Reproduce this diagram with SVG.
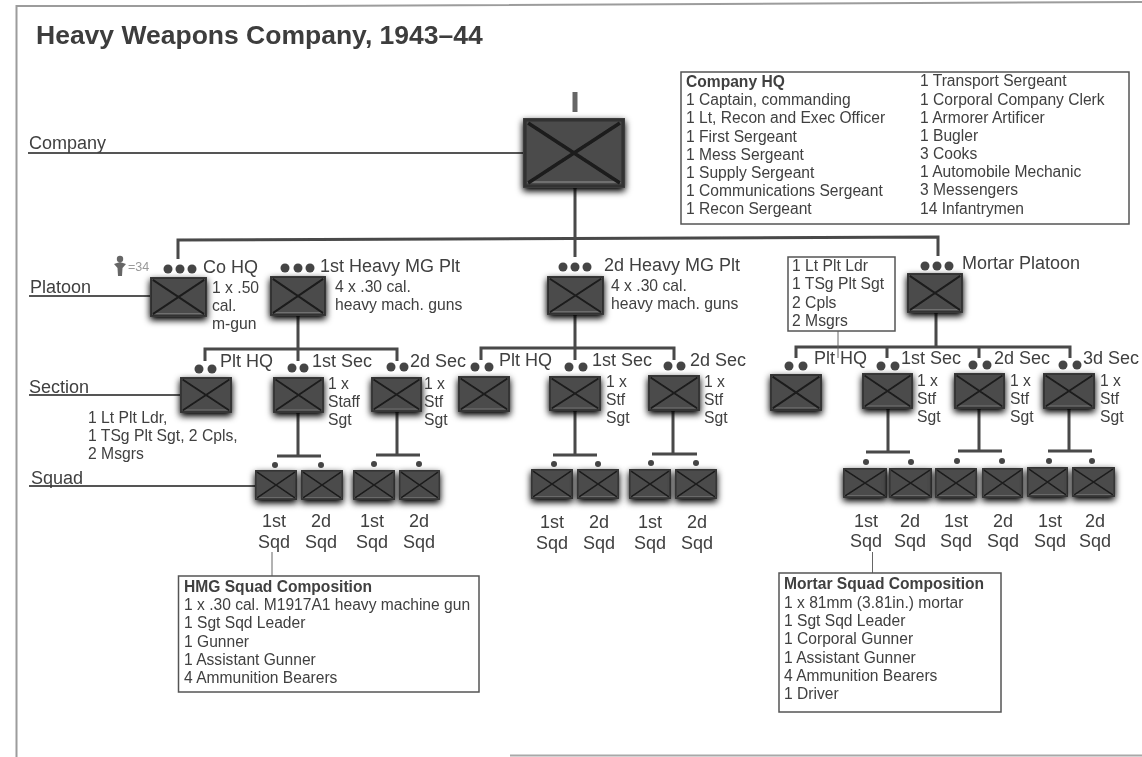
<svg xmlns="http://www.w3.org/2000/svg" width="1142" height="757" viewBox="0 0 1142 757">
<style>
text{font-family:"Liberation Sans",Arial,sans-serif;fill:#404040}
.t{font-size:26.500px;font-weight:bold;fill:#3c3c3c}
.l{font-size:18px}
.m{font-size:18px}
.s{font-size:15.700px}
.b{font-size:15.600px}
.h{font-weight:bold}
.q{font-size:18px;text-anchor:middle}
.c{fill:none;stroke:#484848;stroke-width:3}
.f{fill:none;stroke:#555;stroke-width:2}
.n{fill:none;stroke:#666;stroke-width:1}
.bx{fill:#fff;stroke:#555;stroke-width:1.500}
.d{fill:#444}
.sh{filter:url(#shadow)}
</style>
<defs>
<filter id="soft" filterUnits="userSpaceOnUse" x="0" y="0" width="1142" height="757">
<feGaussianBlur stdDeviation="0.450"/>
</filter>
<filter id="shadow" x="-30%" y="-30%" width="160%" height="170%">
<feGaussianBlur in="SourceAlpha" stdDeviation="3.500"/>
<feOffset dy="3"/>
<feComponentTransfer><feFuncA type="linear" slope="1.100"/></feComponentTransfer>
<feMerge><feMergeNode/><feMergeNode in="SourceGraphic"/></feMerge>
</filter>
<symbol id="u" viewBox="0 0 100 70" preserveAspectRatio="none">
<rect x="0" y="0" width="100" height="70" fill="#4b4b4b"/>
<rect x="2" y="2" width="96" height="66" fill="none" stroke="#303030" stroke-width="3"/>
<rect x="4" y="63" width="92" height="2" fill="#707070"/>
<path d="M5 5L95 65M95 5L5 65" fill="none" stroke="#1c1c1c" stroke-width="3.500"/>
</symbol>
</defs>
<rect width="1142" height="757" fill="#fff"/>
<g id="diagram" filter="url(#soft)">
<g id="page-border" fill="none">
<path d="M16.500 757V6H300L1142 2" stroke="#9c9c9c" stroke-width="2"/>
<path d="M510 755.500H1142" stroke="#a8a8a8" stroke-width="2"/>
</g>
<text class="t" x="36" y="44">Heavy Weapons Company, 1943–44</text>
<g id="connectors">
<path class="f" d="M28 153H523M29 296H150M29 395H180M29 486H255"/>
<path d="M575 92V112" stroke="#666" stroke-width="5" fill="none"/>
<path class="c" d="M178 259V240L938 237V256M575 188V257"/>
<path class="c" d="M298 316V349M205 361V349H397V361M298 349V361"/>
<path class="c" d="M298 413V456M277 456H321M397 412V455M376 455H420"/>
<path class="c" d="M575 315V348M481 360V348H674V360M575 348V360"/>
<path class="c" d="M575 411V455M553 455H597M673 411V454M652 454H697"/>
<path class="c" d="M936 313V347M796 358V347H1070V358M887 347V358M979 347V358"/>
<path class="c" d="M888 409V452M866 452H910M979 409V451M958 451H1002M1069 409V451M1048 451H1092"/>
<path class="n" d="M838 331V358M272 552V576M872.500 552V573"/>
</g>
<g id="company-hq-box">
<rect class="bx" x="681" y="72" width="448" height="152"/>
<g class="b">
<text class="h" x="686" y="87">Company HQ</text>
<text x="686" y="105">1 Captain, commanding</text>
<text x="686" y="123">1 Lt, Recon and Exec Officer</text>
<text x="686" y="142">1 First Sergeant</text>
<text x="686" y="160">1 Mess Sergeant</text>
<text x="686" y="178">1 Supply Sergeant</text>
<text x="686" y="196">1 Communications Sergeant</text>
<text x="686" y="214">1 Recon Sergeant</text>
<text x="920" y="86">1 Transport Sergeant</text>
<text x="920" y="105">1 Corporal Company Clerk</text>
<text x="920" y="123">1 Armorer Artificer</text>
<text x="920" y="141">1 Bugler</text>
<text x="920" y="159">3 Cooks</text>
<text x="920" y="177">1 Automobile Mechanic</text>
<text x="920" y="195">3 Messengers</text>
<text x="920" y="214">14 Infantrymen</text>
</g>
</g>
<g id="echelon-labels">
<text class="l" x="29" y="149">Company</text>
<text class="l" x="30" y="293">Platoon</text>
<text class="l" x="29" y="393">Section</text>
<text class="l" x="31" y="484">Squad</text>
</g>
<g id="company"><use class="sh" href="#u" x="523" y="118" width="102" height="70"/></g>
<g id="co-hq">
<use class="sh" href="#u" x="150" y="277" width="57" height="40"/>
<circle class="d" cx="168" cy="269" r="4.500"/><circle class="d" cx="180" cy="269" r="4.500"/><circle class="d" cx="192" cy="269" r="4.500"/>
<text class="m" x="203" y="273">Co HQ</text>
<g class="s"><text x="212" y="293">1 x .50</text><text x="212" y="311">cal.</text><text x="212" y="329">m-gun</text></g>
<circle cx="120" cy="259" r="3.200" fill="#666"/>
<path d="M114 264L120 262L126 264L122.500 268L122 276H118L117.500 268Z" fill="#666"/>
<text x="128" y="271" font-size="12.500" style="fill:#999">=34</text>
</g>
<g id="hmg-1">
<use class="sh" href="#u" x="270" y="276" width="56" height="40"/>
<circle class="d" cx="285" cy="268" r="4.500"/><circle class="d" cx="298" cy="268" r="4.500"/><circle class="d" cx="310" cy="268" r="4.500"/>
<text class="m" x="320" y="272">1st Heavy MG Plt</text>
<g class="s"><text x="335" y="292">4 x .30 cal.</text><text x="335" y="310">heavy mach. guns</text></g>
</g>
<g id="hmg-2">
<use class="sh" href="#u" x="547" y="276" width="57" height="39"/>
<circle class="d" cx="563" cy="267" r="4.500"/><circle class="d" cx="575" cy="267" r="4.500"/><circle class="d" cx="587" cy="267" r="4.500"/>
<text class="m" x="604" y="271">2d Heavy MG Plt</text>
<g class="s"><text x="611" y="291">4 x .30 cal.</text><text x="611" y="309">heavy mach. guns</text></g>
</g>
<g id="mortar-plt">
<use class="sh" href="#u" x="907" y="273" width="56" height="40"/>
<circle class="d" cx="925" cy="266" r="4.500"/><circle class="d" cx="937" cy="266" r="4.500"/><circle class="d" cx="949" cy="266" r="4.500"/>
<text class="m" x="962" y="269">Mortar Platoon</text>
</g>
<g id="hmg1-plt-hq">
<use class="sh" href="#u" x="180" y="377" width="52" height="36"/>
<circle class="d" cx="199" cy="369" r="4.500"/><circle class="d" cx="212" cy="369" r="4.500"/>
<text class="m" x="220" y="367">Plt HQ</text>
<g class="s"><text x="88" y="423">1 Lt Plt Ldr,</text><text x="88" y="441">1 TSg Plt Sgt, 2 Cpls,</text><text x="88" y="459">2 Msgrs</text></g>
</g>
<g id="hmg1-sec-1">
<use class="sh" href="#u" x="273" y="377" width="51" height="36"/>
<circle class="d" cx="292" cy="368" r="4.500"/><circle class="d" cx="304" cy="368" r="4.500"/>
<text class="m" x="312" y="367">1st Sec</text>
<g class="s"><text x="328" y="389">1 x</text><text x="328" y="407">Staff</text><text x="328" y="425">Sgt</text></g>
</g>
<g id="hmg1-sec-2">
<use class="sh" href="#u" x="371" y="377" width="51" height="35"/>
<circle class="d" cx="391" cy="367" r="4.500"/><circle class="d" cx="404" cy="367" r="4.500"/>
<text class="m" x="410" y="367">2d Sec</text>
<g class="s"><text x="424" y="389">1 x</text><text x="424" y="407">Stf</text><text x="424" y="425">Sgt</text></g>
</g>
<g id="hmg2-plt-hq">
<use class="sh" href="#u" x="458" y="376" width="52" height="36"/>
<circle class="d" cx="475" cy="367" r="4.500"/><circle class="d" cx="489" cy="367" r="4.500"/>
<text class="m" x="499" y="366">Plt HQ</text>
</g>
<g id="hmg2-sec-1">
<use class="sh" href="#u" x="549" y="376" width="52" height="35"/>
<circle class="d" cx="569" cy="367" r="4.500"/><circle class="d" cx="583" cy="367" r="4.500"/>
<text class="m" x="592" y="366">1st Sec</text>
<g class="s"><text x="606" y="387">1 x</text><text x="606" y="405">Stf</text><text x="606" y="423">Sgt</text></g>
</g>
<g id="hmg2-sec-2">
<use class="sh" href="#u" x="648" y="375" width="52" height="36"/>
<circle class="d" cx="668" cy="366" r="4.500"/><circle class="d" cx="681" cy="366" r="4.500"/>
<text class="m" x="690" y="366">2d Sec</text>
<g class="s"><text x="704" y="387">1 x</text><text x="704" y="405">Stf</text><text x="704" y="423">Sgt</text></g>
</g>
<g id="mortar-callout">
<rect class="bx" x="788" y="257" width="107" height="74"/>
<g class="s"><text x="792" y="271">1 Lt Plt Ldr</text><text x="792" y="289">1 TSg Plt Sgt</text><text x="792" y="308">2 Cpls</text><text x="792" y="326">2 Msgrs</text></g>
</g>
<g id="mortar-plt-hq">
<use class="sh" href="#u" x="770" y="374" width="52" height="37"/>
<circle class="d" cx="789" cy="366" r="4.500"/><circle class="d" cx="803" cy="366" r="4.500"/>
<text class="m" x="814" y="364">Plt HQ</text>
</g>
<g id="mortar-sec-1">
<use class="sh" href="#u" x="862" y="373" width="51" height="36"/>
<circle class="d" cx="881" cy="366" r="4.500"/><circle class="d" cx="895" cy="366" r="4.500"/>
<text class="m" x="901" y="364">1st Sec</text>
<g class="s"><text x="917" y="386">1 x</text><text x="917" y="404">Stf</text><text x="917" y="422">Sgt</text></g>
</g>
<g id="mortar-sec-2">
<use class="sh" href="#u" x="954" y="373" width="51" height="36"/>
<circle class="d" cx="973" cy="365" r="4.500"/><circle class="d" cx="987" cy="365" r="4.500"/>
<text class="m" x="994" y="364">2d Sec</text>
<g class="s"><text x="1010" y="386">1 x</text><text x="1010" y="404">Stf</text><text x="1010" y="422">Sgt</text></g>
</g>
<g id="mortar-sec-3">
<use class="sh" href="#u" x="1043" y="373" width="52" height="36"/>
<circle class="d" cx="1063" cy="365" r="4.500"/><circle class="d" cx="1077" cy="365" r="4.500"/>
<text class="m" x="1083" y="364">3d Sec</text>
<g class="s"><text x="1100" y="386">1 x</text><text x="1100" y="404">Stf</text><text x="1100" y="422">Sgt</text></g>
</g>
<g id="sq-a1"><use class="sh" href="#u" x="255" y="470" width="42" height="30"/><circle class="d" cx="275" cy="465" r="3"/><text class="q" x="274" y="527">1st</text><text class="q" x="274" y="548">Sqd</text></g>
<g id="sq-a2"><use class="sh" href="#u" x="301" y="470" width="42" height="30"/><circle class="d" cx="321" cy="465" r="3"/><text class="q" x="321" y="527">2d</text><text class="q" x="321" y="548">Sqd</text></g>
<g id="sq-a3"><use class="sh" href="#u" x="353" y="470" width="42" height="30"/><circle class="d" cx="374" cy="464" r="3"/><text class="q" x="372" y="527">1st</text><text class="q" x="372" y="548">Sqd</text></g>
<g id="sq-a4"><use class="sh" href="#u" x="399" y="470" width="41" height="30"/><circle class="d" cx="419" cy="464" r="3"/><text class="q" x="419" y="527">2d</text><text class="q" x="419" y="548">Sqd</text></g>
<g id="sq-b1"><use class="sh" href="#u" x="531" y="469" width="42" height="30"/><circle class="d" cx="554" cy="464" r="3"/><text class="q" x="552" y="528">1st</text><text class="q" x="552" y="549">Sqd</text></g>
<g id="sq-b2"><use class="sh" href="#u" x="577" y="469" width="42" height="30"/><circle class="d" cx="598" cy="464" r="3"/><text class="q" x="599" y="528">2d</text><text class="q" x="599" y="549">Sqd</text></g>
<g id="sq-b3"><use class="sh" href="#u" x="629" y="469" width="42" height="30"/><circle class="d" cx="651" cy="463" r="3"/><text class="q" x="650" y="528">1st</text><text class="q" x="650" y="549">Sqd</text></g>
<g id="sq-b4"><use class="sh" href="#u" x="675" y="469" width="42" height="30"/><circle class="d" cx="696" cy="463" r="3"/><text class="q" x="697" y="528">2d</text><text class="q" x="697" y="549">Sqd</text></g>
<g id="sq-c1"><use class="sh" href="#u" x="843" y="468" width="44" height="30"/><circle class="d" cx="866" cy="462" r="3"/><text class="q" x="866" y="527">1st</text><text class="q" x="866" y="547">Sqd</text></g>
<g id="sq-c2"><use class="sh" href="#u" x="889" y="468" width="43" height="30"/><circle class="d" cx="911" cy="462" r="3"/><text class="q" x="910" y="527">2d</text><text class="q" x="910" y="547">Sqd</text></g>
<g id="sq-c3"><use class="sh" href="#u" x="935" y="468" width="42" height="30"/><circle class="d" cx="957" cy="461" r="3"/><text class="q" x="956" y="527">1st</text><text class="q" x="956" y="547">Sqd</text></g>
<g id="sq-c4"><use class="sh" href="#u" x="982" y="468" width="41" height="30"/><circle class="d" cx="1002" cy="461" r="3"/><text class="q" x="1003" y="527">2d</text><text class="q" x="1003" y="547">Sqd</text></g>
<g id="sq-c5"><use class="sh" href="#u" x="1027" y="467" width="41" height="30"/><circle class="d" cx="1049" cy="461" r="3"/><text class="q" x="1050" y="527">1st</text><text class="q" x="1050" y="547">Sqd</text></g>
<g id="sq-c6"><use class="sh" href="#u" x="1072" y="467" width="43" height="30"/><circle class="d" cx="1092" cy="461" r="3"/><text class="q" x="1095" y="527">2d</text><text class="q" x="1095" y="547">Sqd</text></g>
<g id="hmg-squad-box">
<rect class="bx" x="178.500" y="576" width="300.500" height="116"/>
<g class="b">
<text class="h" x="184" y="592">HMG Squad Composition</text>
<text x="184" y="610">1 x .30 cal. M1917A1 heavy machine gun</text>
<text x="184" y="628">1 Sgt Sqd Leader</text>
<text x="184" y="647">1 Gunner</text>
<text x="184" y="665">1 Assistant Gunner</text>
<text x="184" y="683">4 Ammunition Bearers</text>
</g>
</g>
<g id="mortar-squad-box">
<rect class="bx" x="779" y="573" width="222" height="139"/>
<g class="b">
<text class="h" x="784" y="589">Mortar Squad Composition</text>
<text x="784" y="608">1 x 81mm (3.81in.) mortar</text>
<text x="784" y="626">1 Sgt Sqd Leader</text>
<text x="784" y="644">1 Corporal Gunner</text>
<text x="784" y="663">1 Assistant Gunner</text>
<text x="784" y="681">4 Ammunition Bearers</text>
<text x="784" y="699">1 Driver</text>
</g>
</g>
</g>
</svg>
